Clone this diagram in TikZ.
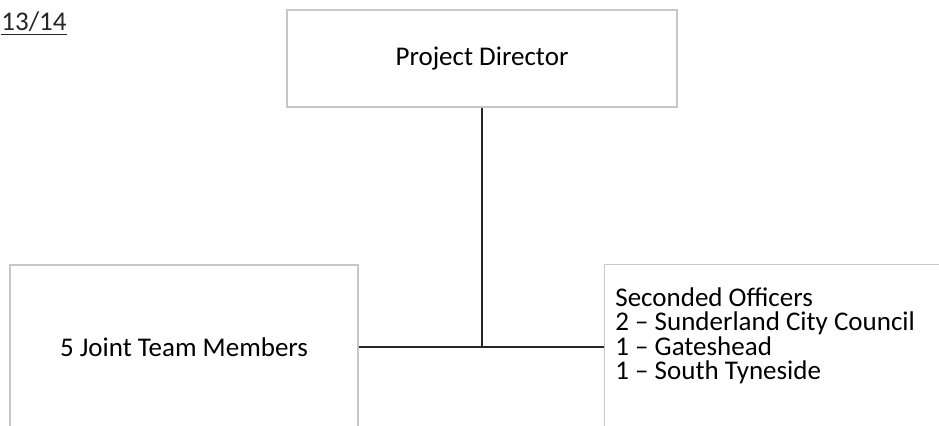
\documentclass[tikz,border=0pt]{standalone}
\usepackage{fontspec}
\setmainfont{Carlito}
\usetikzlibrary{calc,positioning}

\begin{document}
\begin{tikzpicture}[x=0.5pt,y=-0.5pt,
    box/.style={draw=black!22,line width=0.7pt,fill=white,inner sep=0pt},
    link/.style={draw=black!85,line width=0.9pt}]
        \fontsize{13.5pt}{12.3pt}\selectfont
        \useasboundingbox (0,0) rectangle (939,426);
        \clip (0,0) rectangle (939,426);
        \node[anchor=west,text=black!85,inner sep=0pt] (year) at (1,24) {\underline{13/14}};

        \node[box,minimum width=195pt,minimum height=48.5pt] (pd) at (482,58.5) {Project Director};
        \node[box,minimum width=174pt,minimum height=82pt] (jtm) at (184,347) {5 Joint Team Members};
        \node[box,anchor=north west,minimum width=190pt,minimum height=90pt] (sec) at (604,264) {};
        \node[anchor=north west,align=left,inner sep=0pt] (sectext)
          at ([shift={(5.5pt,-11.5pt)}]sec.north west)
          {Seconded Officers\\2 -- Sunderland City Council\\1 -- Gateshead\\1 -- South Tyneside};

        \coordinate (mid) at (pd.south |- jtm.east);
        \draw[link] (pd.south) -- (mid);
        \draw[link] (jtm.east) -- (sec.west |- jtm.east);
      \end{tikzpicture}
\end{document}
